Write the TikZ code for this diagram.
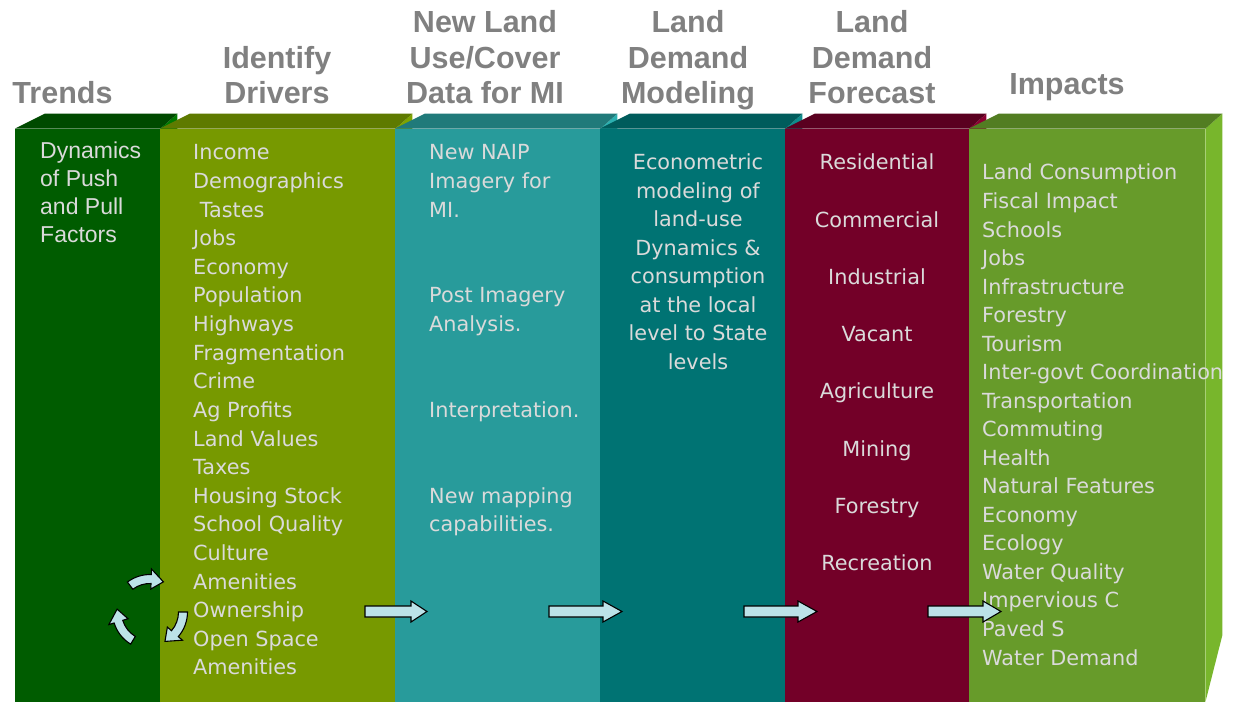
\documentclass[tikz,border=0pt]{standalone}
\usepackage{fontspec}
\setmainfont{DejaVu Sans}
\newfontfamily\arialfont{Liberation Sans}
\usetikzlibrary{calc}

% column colours: front face, top face, side face
\definecolor{fronttrends}{RGB}{0,92,0}
\definecolor{toptrends}{RGB}{0,74,0}
\definecolor{sidetrends}{RGB}{0,122,0}
\definecolor{frontdrivers}{RGB}{119,153,0}
\definecolor{topdrivers}{RGB}{94,122,0}
\definecolor{sidedrivers}{RGB}{126,164,0}
\definecolor{frontdata}{RGB}{40,155,155}
\definecolor{topdata}{RGB}{32,122,122}
\definecolor{sidedata}{RGB}{44,176,176}
\definecolor{frontmodeling}{RGB}{0,115,115}
\definecolor{topmodeling}{RGB}{0,92,92}
\definecolor{sidemodeling}{RGB}{14,140,140}
\definecolor{frontforecast}{RGB}{115,0,40}
\definecolor{topforecast}{RGB}{90,0,32}
\definecolor{sideforecast}{RGB}{140,0,50}
\definecolor{frontimpacts}{RGB}{103,155,42}
\definecolor{topimpacts}{RGB}{82,125,34}
\definecolor{sideimpacts}{RGB}{120,182,44}
\definecolor{bodytext}{RGB}{218,218,218}
\definecolor{headgray}{RGB}{128,128,128}
\definecolor{arrowblue}{RGB}{188,226,232}

% straight block arrow: tail x, head x, tip x, y
\newcommand{\flowarrow}[4]{%
  \filldraw[blockarrow] (#1,#4-5.5) -- (#2,#4-5.5) -- (#2,#4-10.5) -- (#3,#4)
    -- (#2,#4+10.5) -- (#2,#4+5.5) -- (#1,#4+5.5) -- cycle;}
% curved block arrow round (cyc), clockwise from angle #1 to angle #2
\newcommand{\cyclearrow}[2]{%
  \filldraw[blockarrow] ($(cyc)+(#1:37.5pt)$) arc[start angle=#1, end angle=#2+22, radius=37.5pt]
    -- ($(cyc)+(#2+22:43pt)$) -- ($(cyc)+(#2:33pt)$) -- ($(cyc)+(#2+22:23pt)$)
    -- ($(cyc)+(#2+22:28.5pt)$) arc[start angle=#2+22, end angle=#1, radius=28.5pt] -- cycle;}

\begin{document}
\begin{tikzpicture}[x=1pt,y=1pt]
\tikzstyle{front} = [anchor=south west, inner sep=0pt, minimum height=573pt]
\tikzstyle{head} = [text=headgray, font=\arialfont\bfseries\fontsize{30.5}{35}\selectfont, anchor=base, inner sep=0pt]
\tikzstyle{body} = [text=bodytext, font=\fontsize{20.8}{25}\selectfont, inner sep=0pt]
\tikzstyle{trendfont} = [font=\arialfont\fontsize{23}{28}\selectfont]
\tikzstyle{blockarrow} = [fill=arrowblue, draw=black, line width=1.1pt]

\fill[white] (0,0) rectangle (1233,702);
\useasboundingbox (0,0) rectangle (1233,702);

% the six boxes, left to right
\foreach \name/\xl/\w in {trends/15/145, drivers/160/235, data/395/205,
    modeling/600/185, forecast/785/184, impacts/969/236} {
  \node[front, fill=front\name, minimum width=\w pt] (\name) at (\xl,0) {};
  \fill[side\name] (\name.north east) -- ++(17,15) -- ($(\name.south east)+(17,67)$)
    -- (\name.south east) -- cycle;
  \fill[top\name] (\name.north west) -- ++(30,15) -- ($(\name.north east)+(17,15)$)
    -- (\name.north east) -- cycle;
}

% headings
\node[head] (trends-h) at (62.5,598) {Trends};
\node[head] (drivers-h1) at (277,633) {Identify};
\node[head] (drivers-h2) at (277,598) {Drivers};
\node[head] (data-h1) at (485,669) {New Land};
\node[head] (data-h2) at (485,633) {Use/Cover};
\node[head] (data-h3) at (485,598) {Data for MI};
\node[head] (modeling-h1) at (688,669) {Land};
\node[head] (modeling-h2) at (688,633) {Demand};
\node[head] (modeling-h3) at (688,598) {Modeling};
\node[head] (forecast-h1) at (872,669) {Land};
\node[head] (forecast-h2) at (872,633) {Demand};
\node[head] (forecast-h3) at (872,598) {Forecast};
\node[head] (impacts-h) at (1067,607) {Impacts};

% column texts
\foreach \t [count=\i] in {Dynamics, of Push, and Pull, Factors}
  \node[body, trendfont, anchor=base west] (trends-\i) at (40,{543-(\i-1)*28}) {\t};
\foreach \t [count=\i] in {Income, Demographics, \ Tastes, Jobs, Economy, Population,
    Highways, Fragmentation, Crime, Ag Profits, Land Values, Taxes, Housing Stock,
    School Quality, Culture, Amenities, Ownership, Open Space, Amenities}
  \node[body, anchor=base west] (drivers-\i) at (193,{542-(\i-1)*28.6}) {\t};
\foreach \k/\t in {0/New NAIP, 1/Imagery for, 2/MI., 5/Post Imagery, 6/Analysis.,
    9/Interpretation., 12/New mapping, 13/capabilities.}
  \node[body, anchor=base west] (data-\k) at (429,{542-\k*28.6}) {\t};
\foreach \t [count=\i] in {Econometric, modeling of, land-use, Dynamics \&,
    consumption, at the local, level to State, levels}
  \node[body, anchor=base] (modeling-\i) at (698,{532-(\i-1)*28.5}) {\t};
\foreach \t [count=\i] in {Residential, Commercial, Industrial, Vacant, Agriculture,
    Mining, Forestry, Recreation}
  \node[body, anchor=base] (forecast-\i) at (877,{532-(\i-1)*57.2}) {\t};
\foreach \t [count=\i] in {Land Consumption, Fiscal Impact, Schools, Jobs,
    Infrastructure, Forestry, Tourism, Inter-govt Coordination, Transportation,
    Commuting, Health, Natural Features, Economy, Ecology, Water Quality,
    Impervious C, Paved S, Water Demand}
  \node[body, anchor=base west] (impacts-\i) at (982,{522-(\i-1)*28.53}) {\t};

% arrows between the boxes
\flowarrow{365}{411}{427}{90.5}
\flowarrow{549}{603}{622}{90.5}
\flowarrow{744}{798}{817}{90.5}
\flowarrow{928}{983}{1001}{90.5}

% feedback cycle
\coordinate (cyc) at (150,90);
\cyclearrow{127}{66}
\cyclearrow{0}{-63}
\cyclearrow{-121}{-185}
\end{tikzpicture}
\end{document}
